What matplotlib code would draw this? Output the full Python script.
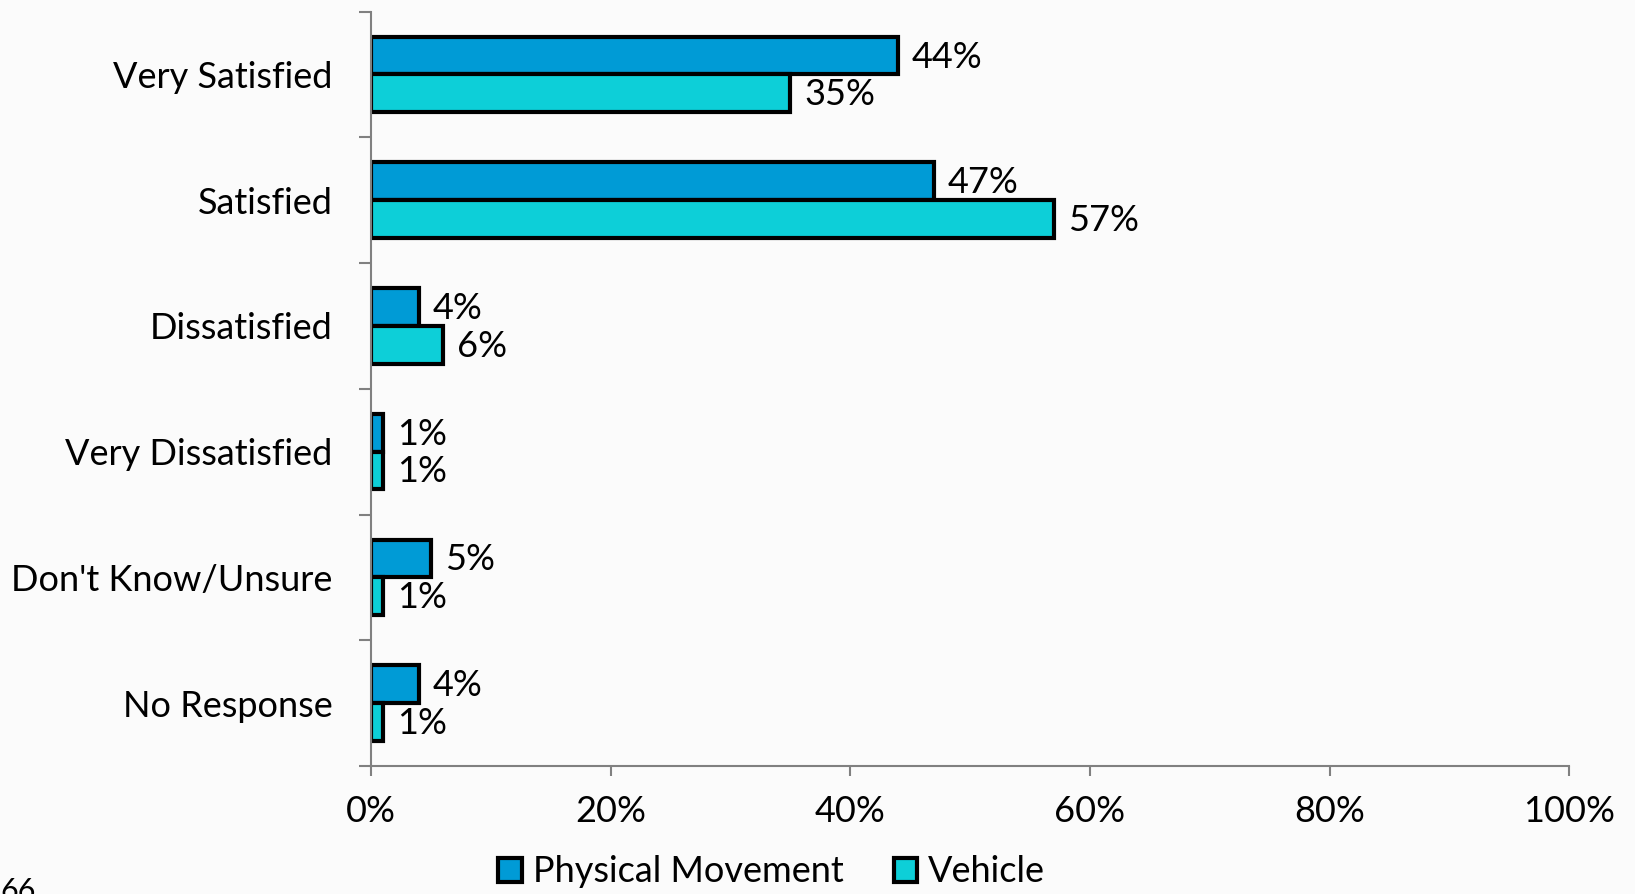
import numpy as np
import matplotlib
matplotlib.use('Agg')
import matplotlib.pyplot as plt
from matplotlib.patches import Patch
from matplotlib.ticker import FixedLocator, PercentFormatter

categories = ['Very Satisfied', 'Satisfied', 'Dissatisfied', 'Very Dissatisfied',
              "Don't Know/Unsure", 'No Response']
physical = [44, 47, 4, 1, 5, 4]
vehicle = [35, 57, 6, 1, 1, 1]
series_names = ['Physical Movement', 'Vehicle']
colors = ['#009BD6', '#0DCFD8']
xticks = [0, 20, 40, 60, 80, 100]

plt.rcParams['font.family'] = ['Lato', 'DejaVu Sans']
fs = 26

fig = plt.figure(figsize=(16.35, 8.94), dpi=100)
fig.patch.set_facecolor('#fbfbfb')
ax = fig.add_axes([0.227, 0.1432, 0.7327, 0.8438])
ax.set_facecolor('#fbfbfb')

y = np.arange(len(categories))
h = 0.3
ax.barh(y - h / 2, physical, height=h, color=colors[0], edgecolor='black', linewidth=3)
ax.barh(y + h / 2, vehicle, height=h, color=colors[1], edgecolor='black', linewidth=3)

# value labels
for i in range(len(categories)):
    ax.annotate(f'{physical[i]}%', (physical[i], y[i] - h / 2), xytext=(10, -1),
                textcoords='offset points', va='center', ha='left', fontsize=fs)
    ax.annotate(f'{vehicle[i]}%', (vehicle[i], y[i] + h / 2), xytext=(10, -1),
                textcoords='offset points', va='center', ha='left', fontsize=fs)

ax.set_xlim(0, 100)
ax.set_ylim(len(categories) - 0.5, -0.5)
ax.set_xticks(xticks)
ax.xaxis.set_major_formatter(PercentFormatter(decimals=0))
ax.set_yticks(y)
ax.set_yticklabels(categories)
ax.yaxis.set_minor_locator(FixedLocator(np.arange(-0.5, len(categories), 1.0)))
ax.tick_params(axis='y', which='major', length=0, pad=28, labelsize=fs)
ax.tick_params(axis='y', which='minor', length=9, width=1.5, color='#808080', direction='out')
ax.tick_params(axis='x', which='major', length=7, width=1.5, color='#808080',
               direction='out', pad=14, labelsize=fs)

for s in ['top', 'right']:
    ax.spines[s].set_visible(False)
for s in ['left', 'bottom']:
    ax.spines[s].set_color('#808080')
    ax.spines[s].set_linewidth(1.5)

handles = [Patch(facecolor=colors[0], edgecolor='black', linewidth=3),
           Patch(facecolor=colors[1], edgecolor='black', linewidth=3)]
fig.legend(handles, series_names, loc='lower center', bbox_to_anchor=(0.472, -0.03),
           ncol=2, frameon=False, fontsize=fs, handlelength=0.65, handleheight=0.65,
           handletextpad=0.3, columnspacing=1.4)

fig.text(0.0, -0.012, '66', fontsize=22, ha='left', va='bottom')

fig.savefig('out.png', dpi=100, facecolor=fig.get_facecolor())
